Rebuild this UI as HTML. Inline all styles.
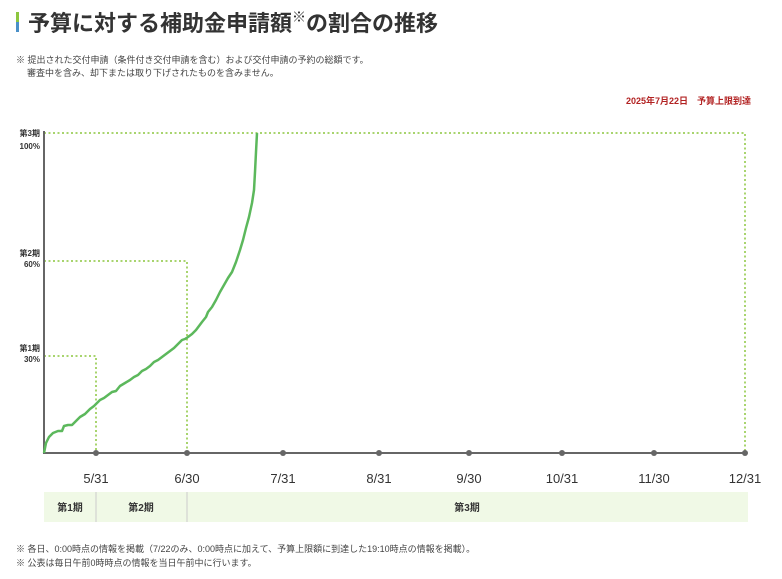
<!DOCTYPE html>
<html><head><meta charset="utf-8"><style>
body{margin:0;background:#fff;width:782px;height:574px;overflow:hidden;font-family:"Liberation Sans","Noto Sans CJK JP",sans-serif;}
svg text{font-family:"Liberation Sans","Noto Sans CJK JP",sans-serif;}
</style></head><body>
<svg width="782" height="574" viewBox="0 0 782 574" xmlns="http://www.w3.org/2000/svg">
<rect x="16" y="12" width="3" height="10" fill="#8cc63f"/>
<rect x="16" y="22" width="3" height="10" fill="#4a90c8"/>
<text x="28" y="31" font-size="22" font-weight="bold" fill="#333">予算に対する補助金申請額<tspan font-size="14" dy="-9">※</tspan><tspan dy="9">の割合の推移</tspan></text>
<text x="16" y="63" font-size="9" fill="#444">※ 提出された交付申請（条件付き交付申請を含む）および交付申請の予約の総額です。</text>
<text x="27" y="76" font-size="9" fill="#444">審査中を含み、却下または取り下げされたものを含みません。</text>
<text x="751" y="104" font-size="9" font-weight="bold" fill="#b22222" text-anchor="end">2025年7月22日　予算上限到達</text>
<g stroke="#8cc63f" stroke-width="1.5" stroke-dasharray="2,2.5" fill="none">
<path d="M44 133H745V453"/>
<path d="M44 261H187V453"/>
<path d="M44 356H96V453"/>
</g>
<line x1="44" y1="131" x2="44" y2="454" stroke="#666" stroke-width="2"/>
<line x1="43" y1="453" x2="746" y2="453" stroke="#666" stroke-width="2"/>
<g fill="#666">
<circle cx="96" cy="453" r="3"/><circle cx="187" cy="453" r="3"/><circle cx="283" cy="453" r="3"/><circle cx="379" cy="453" r="3"/><circle cx="469" cy="453" r="3"/><circle cx="562" cy="453" r="3"/><circle cx="654" cy="453" r="3"/><circle cx="745" cy="453" r="3"/>
</g>
<g font-size="8" font-weight="bold" fill="#333" text-anchor="end">
<text x="40" y="136">第3期</text><text x="40" y="149">100%</text>
<text x="40" y="256">第2期</text><text x="40" y="267">60%</text>
<text x="40" y="351">第1期</text><text x="40" y="362">30%</text>
</g>
<polyline fill="none" stroke="#5cb85c" stroke-width="2.5" stroke-linejoin="round" points="44,453 46,443 49,437 53,433 58,431 62,431 64,426 68,425 72,425 76,421 80,417 85,414 90,409 94,406 97,403 100,400 104,398 108,395 112,392 116,391 120,386 125,383 130,380 134,377 138,375 142,371 146,369 150,366 154,362 158,360 162,357 166,354 170,351 174,348 178,344 182,340 185,339 188,337 192,334 196,330 199,326 202,322 206,317 208,312 212,307 216,300 220,292 224,285 228,278 232,272 236,262 240,250 243,240 246,228 249,217 252,203 254,190 255,172 256,152 257,133"/>
<g font-size="13" fill="#333" text-anchor="middle">
<text x="96" y="483">5/31</text><text x="187" y="483">6/30</text><text x="283" y="483">7/31</text><text x="379" y="483">8/31</text><text x="469" y="483">9/30</text><text x="562" y="483">10/31</text><text x="654" y="483">11/30</text><text x="745" y="483">12/31</text>
</g>
<rect x="44" y="492" width="704" height="30" fill="#f0f9e6"/>
<line x1="96" y1="492" x2="96" y2="522" stroke="#ccc"/>
<line x1="187" y1="492" x2="187" y2="522" stroke="#ccc"/>
<g font-size="10" font-weight="bold" fill="#333" text-anchor="middle">
<text x="70" y="511">第1期</text><text x="141" y="511">第2期</text><text x="467" y="511">第3期</text>
</g>
<text x="16" y="552" font-size="9" fill="#444">※ 各日、0:00時点の情報を掲載（7/22のみ、0:00時点に加えて、予算上限額に到達した19:10時点の情報を掲載）。</text>
<text x="16" y="566" font-size="9" fill="#444">※ 公表は毎日午前0時時点の情報を当日午前中に行います。</text>
</svg>
</body></html>
